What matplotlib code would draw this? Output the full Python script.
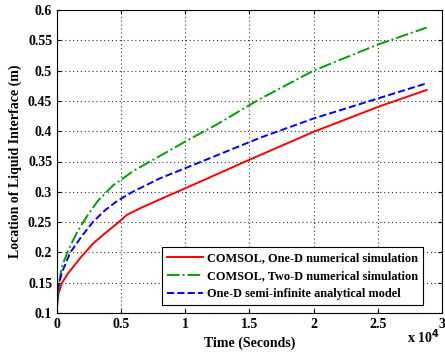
import matplotlib.pyplot as plt

plt.rcParams['font.family'] = ['Liberation Serif', 'DejaVu Serif']
plt.rcParams['font.weight'] = 'bold'

# time in units of 1e4 seconds
t_red = [0, 0.012, 0.037, 0.088, 0.19, 0.283, 0.377, 0.47, 0.545, 0.66, 0.84, 1.14, 1.5, 2.0, 2.5, 2.88]
red = [0.11, 0.132, 0.149, 0.166, 0.193, 0.215, 0.232, 0.248, 0.262, 0.274, 0.291, 0.319, 0.353, 0.399, 0.44, 0.468]

t_green = [0, 0.016, 0.037, 0.088, 0.153, 0.231, 0.322, 0.439, 0.6, 0.842, 1.0, 1.244, 1.58, 2.0, 2.5, 2.88]
green = [0.117, 0.149, 0.176, 0.204, 0.232, 0.259, 0.286, 0.311, 0.335, 0.364, 0.383, 0.411, 0.453, 0.5, 0.543, 0.571]

t_blue = [0, 0.012, 0.037, 0.101, 0.19, 0.283, 0.377, 0.47, 0.59, 0.8, 1.0, 1.244, 1.58, 2.0, 2.5, 2.88]
blue = [0.12, 0.145, 0.166, 0.199, 0.226, 0.251, 0.27, 0.285, 0.3, 0.322, 0.339, 0.36, 0.389, 0.421, 0.454, 0.479]

labels = ['COMSOL, One-D numerical simulation',
          'COMSOL, Two-D numerical simulation',
          'One-D semi-infinite analytical model']

fig = plt.figure(figsize=(4.45, 3.56), dpi=100)
ax = fig.add_axes([57 / 445, 43 / 356, 385 / 445, 303 / 356])

ax.plot(t_red, red, color='#ff0000', ls='-', lw=1.4, label=labels[0])
ax.plot(t_green, green, color='#00a000', ls='-.', lw=1.4, label=labels[1])
ax.plot(t_blue, blue, color='#0000ff', ls='--', lw=1.4, label=labels[2])

ax.set_xlim(0, 3)
ax.set_ylim(0.1, 0.6)
ax.set_xticks([0, 0.5, 1, 1.5, 2, 2.5, 3])
ax.set_xticklabels(['0', '0.5', '1', '1.5', '2', '2.5', '3'])
ax.set_yticks([0.1, 0.15, 0.2, 0.25, 0.3, 0.35, 0.4, 0.45, 0.5, 0.55, 0.6])
ax.set_yticklabels(['0.1', '0.15', '0.2', '0.25', '0.3', '0.35', '0.4', '0.45', '0.5', '0.55', '0.6'])
ax.tick_params(direction='in', labelsize=10, top=True, right=True, length=3)
ax.grid(True, color='#333333', ls=(0, (1, 2.5)), lw=0.8)

ax.set_xlabel('Time (Seconds)', fontsize=10, fontweight='bold')
ax.set_ylabel('Location of Liquid Interface (m)', fontsize=10, fontweight='bold')
ax.text(0.995, -0.099, r'x 10$^{\mathbf{4}}$', transform=ax.transAxes, ha='right', va='baseline',
        fontsize=10, fontweight='bold')

leg = ax.legend(loc='lower right', bbox_to_anchor=(0.951, 0.026), borderaxespad=0,
                fontsize=8.8, fancybox=False, framealpha=1, edgecolor='black',
                handlelength=3.0, handletextpad=0.3, labelspacing=0.5)
leg.get_frame().set_linewidth(0.8)

fig.savefig('out.png', dpi=100)
